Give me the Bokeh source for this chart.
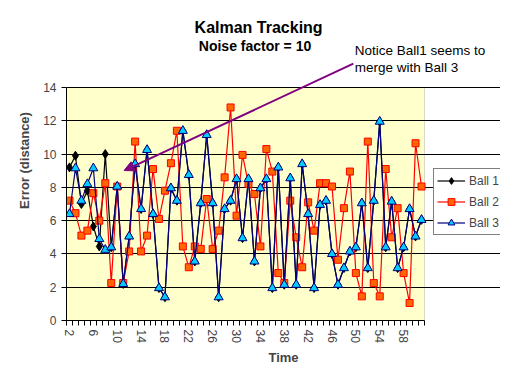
from bokeh.plotting import figure
from bokeh.models import (Range1d, FixedTicker, Label, Arrow, NormalHead, Legend, LegendItem,
                          ColumnDataSource, BoxAnnotation)
from bokeh.embed import file_html
from bokeh.resources import INLINE

# ---- data ----
times = list(range(2, 62))
ball1 = [9.2, 9.9, 7.0, 7.8, 5.65, 4.45, 10.0,
         4.4, 8.05, 2.2, 5.05, 9.4, 6.7, 10.25, 6.4, 1.95, 1.4, 7.95, 7.2, 11.4,
         8.75, 3.55, 7.05, 11.15, 7.05, 1.4, 6.7, 7.2, 8.5, 4.95, 8.5, 3.55, 7.95,
         8.5, 1.95, 9.2, 2.15, 8.55, 2.15, 9.4, 6.4, 1.95, 6.95, 7.2, 4.0, 2.15,
         3.15, 4.15, 4.4, 7.05, 3.15, 7.2, 11.95, 4.4, 7.15, 3.15, 4.4, 6.7, 5.05, 6.05]
ball2 = [7.2, 6.45, 5.1, 5.4, 7.65, 6.0, 8.25, 2.25, 8.05, 2.25,
         4.15, 10.75, 4.15, 5.1, 9.1, 6.1, 7.8, 9.45, 11.4, 4.45,
         3.2, 4.45, 4.3, 7.3, 4.3, 5.4, 8.6, 12.8, 6.3, 9.95,
         8.2, 7.6, 4.45, 10.3, 8.95, 2.85, 2.25, 7.2, 5.0, 3.2,
         7.1, 5.4, 8.25, 8.25, 8.05, 3.65, 6.75, 8.95, 2.85, 1.45,
         10.75, 2.25, 1.45, 9.1, 5.0, 6.75, 2.85, 1.05, 10.65, 8.05]
ball3 = [6.4, 9.15, 7.2, 8.2, 9.15, 4.9, 4.25, 4.4, 8.05, 2.2,
         5.05, 9.4, 6.7, 10.25, 6.4, 1.95, 1.4, 7.95, 7.2, 11.4,
         8.75, 3.55, 7.05, 11.15, 7.05, 1.4, 6.7, 7.2, 8.5, 4.95,
         8.5, 3.55, 7.95, 8.5, 1.95, 9.2, 2.15, 8.55, 2.15, 9.4,
         6.4, 1.95, 6.95, 7.2, 4.0, 2.15, 3.15, 4.15, 4.4, 7.05,
         3.15, 7.2, 11.95, 4.4, 7.15, 3.15, 4.4, 6.7, 5.05, 6.05]
series_names = ["Ball 1", "Ball 2", "Ball 3"]
y_ticks = [0, 2, 4, 6, 8, 10, 12, 14]
x_tick_labels = [2, 6, 10, 14, 18, 22, 26, 30, 34, 38, 42, 46, 50, 54, 58]
title_text = "Kalman Tracking"
subtitle_text = "Noise factor = 10"
note_lines = ["Notice Ball1 seems to", "merge with Ball 3"]

FONT = "Liberation Sans"
Y_MAX = 14
X_LO, X_HI = times[0] - 0.5, times[-1] + 0.5

# frame extends up to the top and right edges so titles, note, arrow and legend are not clipped
p = figure(width=500, height=369, output_backend="svg", toolbar_location=None,
           x_range=Range1d(X_LO, 74.24), y_range=Range1d(0, 19.227),
           min_border_left=66, min_border_right=0, min_border_top=0, min_border_bottom=49)
p.background_fill_color = "white"
p.border_fill_color = "white"
p.outline_line_color = None

# plot area
p.add_layout(BoxAnnotation(left=X_LO, right=X_HI, bottom=0, top=Y_MAX, fill_color="#FFFFCC",
                           fill_alpha=1.0, line_color="#808080", line_width=1, level="image"))

# axes
xa = p.xaxis[0]
xa.bounds = (X_LO, X_HI)
xa.ticker = FixedTicker(ticks=x_tick_labels, minor_ticks=[t - 0.5 for t in times] + [X_HI])
xa.major_tick_out = 0
xa.major_tick_in = 0
xa.minor_tick_out = 5
xa.minor_tick_in = 0
xa.minor_tick_line_color = "black"
xa.major_label_orientation = "vertical"
xa.major_label_standoff = 4
xa.major_label_text_font = FONT
xa.major_label_text_font_size = "12px"
xa.axis_label = "Time"
xa.axis_label_text_font = FONT
xa.axis_label_text_font_style = "bold"
xa.axis_label_text_font_size = "13px"
xa.axis_label_standoff = 4
xa.axis_line_color = "black"

ya = p.yaxis[0]
ya.bounds = (0, Y_MAX)
ya.ticker = FixedTicker(ticks=y_ticks)
ya.major_tick_out = 5
ya.major_tick_in = 0
ya.minor_tick_out = 0
ya.minor_tick_in = 0
ya.major_label_standoff = 5
ya.major_label_text_font = FONT
ya.major_label_text_font_size = "12px"
ya.axis_label = "Error (distance)"
ya.axis_label_text_font = FONT
ya.axis_label_text_font_style = "bold"
ya.axis_label_text_font_size = "13px"
ya.axis_label_standoff = 8
ya.axis_line_color = "black"

p.xgrid.grid_line_color = None
p.ygrid.grid_line_color = "black"
p.ygrid.bounds = (X_LO, X_HI)

src = ColumnDataSource(dict(t=times, b1=ball1, b2=ball2, b3=ball3))

l1 = p.line("t", "b1", source=src, line_color="black", line_width=1.2)
m1 = p.scatter("t", "b1", source=src, marker="diamond", size=9, fill_color="black", line_color="black")
l2 = p.line("t", "b2", source=src, line_color="#FF0000", line_width=1.2)
m2 = p.scatter("t", "b2", source=src, marker="square", size=7, fill_color="#FF6600", line_color="#FF0000")
l3 = p.line("t", "b3", source=src, line_color="#000080", line_width=1.2)
m3 = p.scatter("t", "b3", source=src, marker="triangle", size=9, fill_color="#00CCFF", line_color="#000080")

legend = Legend(items=[LegendItem(label=series_names[0], renderers=[l1, m1]),
                       LegendItem(label=series_names[1], renderers=[l2, m2]),
                       LegendItem(label=series_names[2], renderers=[l3, m3])],
                location=(367, 85))
legend.border_line_color = "black"
legend.border_line_width = 1
legend.background_fill_color = "white"
legend.background_fill_alpha = 1.0
legend.label_text_font = FONT
legend.label_text_font_size = "12px"
legend.glyph_width = 28
legend.glyph_height = 17
legend.label_height = 17
legend.spacing = 4
legend.padding = 3
legend.margin = 0
legend.label_standoff = 4
p.add_layout(legend, "center")

# titles and note (data coordinates)
p.add_layout(Label(x=33.7, y=17.62, text=title_text, text_align="center", text_baseline="alphabetic",
                   text_font=FONT, text_font_style="bold", text_font_size="16px", text_color="black"))
p.add_layout(Label(x=33.1, y=16.47, text=subtitle_text, text_align="center", text_baseline="alphabetic",
                   text_font=FONT, text_font_style="bold", text_font_size="14px", text_color="black"))
p.add_layout(Label(x=49.8, y=16.23, text=note_lines[0], text_align="left", text_baseline="alphabetic",
                   text_font=FONT, text_font_size="13.5px", text_color="black"))
p.add_layout(Label(x=49.8, y=15.22, text=note_lines[1], text_align="left", text_baseline="alphabetic",
                   text_font=FONT, text_font_size="13.5px", text_color="black"))
p.add_layout(Arrow(end=NormalHead(size=10, fill_color="#800080", line_color="#800080"),
                   x_start=49.57, y_start=15.43, x_end=11.15, y_end=9.01,
                   line_color="#800080", line_width=2))

open("out.html", "w").write(file_html(p, INLINE))
